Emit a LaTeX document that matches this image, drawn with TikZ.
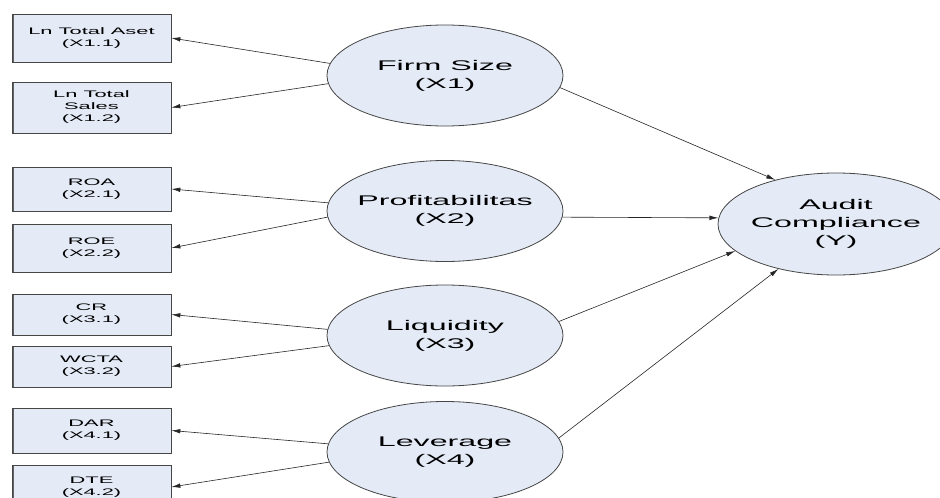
\documentclass[tikz,border=0pt]{standalone}
\usepackage{fontspec}
\setmainfont{Liberation Sans}
\newfontfamily\widesans[FakeStretch=2.3]{Liberation Sans}
\usetikzlibrary{shapes.geometric, arrows.meta}
\tikzset{>={Latex[length=9pt,width=4.5pt]}}
\definecolor{boxfill}{RGB}{228,235,247}
\definecolor{edge}{RGB}{70,70,70}
\tikzset{
  indicator/.style={draw=edge, fill=boxfill, line width=0.7pt, minimum width=159pt, inner sep=0pt,
    align=center, font=\widesans\fontsize{9.5}{12}\selectfont,
    path picture={\draw[line width=3pt, edge!85] (path picture bounding box.north west) -- (path picture bounding box.south west);}},
  construct/.style={ellipse, draw=edge, fill=boxfill, line width=0.8pt, minimum width=236pt, minimum height=101pt,
    inner xsep=-40pt, inner ysep=0pt, align=center, font=\widesans\fontsize{14}{18}\selectfont},
  link/.style={->, line width=0.6pt, black!85}
}

\begin{document}
\begin{tikzpicture}[x=1pt, y=-1pt]
\clip (0,0) rectangle (940,498);
\fill[white] (0,0) rectangle (940,498);

\node[indicator, minimum height=48pt] (b11) at (91.5,38) {Ln Total Aset\\(X1.1)};
\node[indicator, minimum height=51pt] (b12) at (91.5,107.5) {Ln Total\\Sales\\(X1.2)};
\node[indicator, minimum height=44pt] (b21) at (91.5,189) {ROA\\(X2.1)};
\node[indicator, minimum height=48pt] (b22) at (91.5,248) {ROE\\(X2.2)};
\node[indicator, minimum height=41pt] (b31) at (91.5,314.5) {CR\\(X3.1)};
\node[indicator, minimum height=41pt] (b32) at (91.5,366.5) {WCTA\\(X3.2)};
\node[indicator, minimum height=45pt] (b41) at (91.5,430.5) {DAR\\(X4.1)};
\node[indicator, minimum height=44pt] (b42) at (91.5,487) {DTE\\(X4.2)};

\node[construct] (fs) at (445,75.5) {Firm Size\\(X1)};
\node[construct] (pr) at (445,211) {Profitabilitas\\(X2)};
\node[construct] (lq) at (445,335.5) {Liquidity\\(X3)};
\node[construct] (lv) at (445,452) {Leverage\\(X4)};
\node[construct, minimum height=102pt] (ac) at (836,224) {Audit\\Compliance\\(Y)};

\draw[link] (fs.174) -- (b11.east);
\draw[link] (fs.184) -- (b12.east);
\draw[link] (pr.176) -- (b21.east);
\draw[link] (pr.183) -- (b22.east);
\draw[link] (lq.177) -- (b31.east);
\draw[link] (lq.185) -- (b32.east);
\draw[link] (lv.176) -- (b41.east);
\draw[link] (lv.185) -- (b42.east);

\draw[link] (fs.354) -- (ac.144);
\draw[link] (pr.357) -- (ac.177);
\draw[link] (lq.7) -- (ac.195);
\draw[link] (lv.7) -- (ac.218);
\end{tikzpicture}
\end{document}
